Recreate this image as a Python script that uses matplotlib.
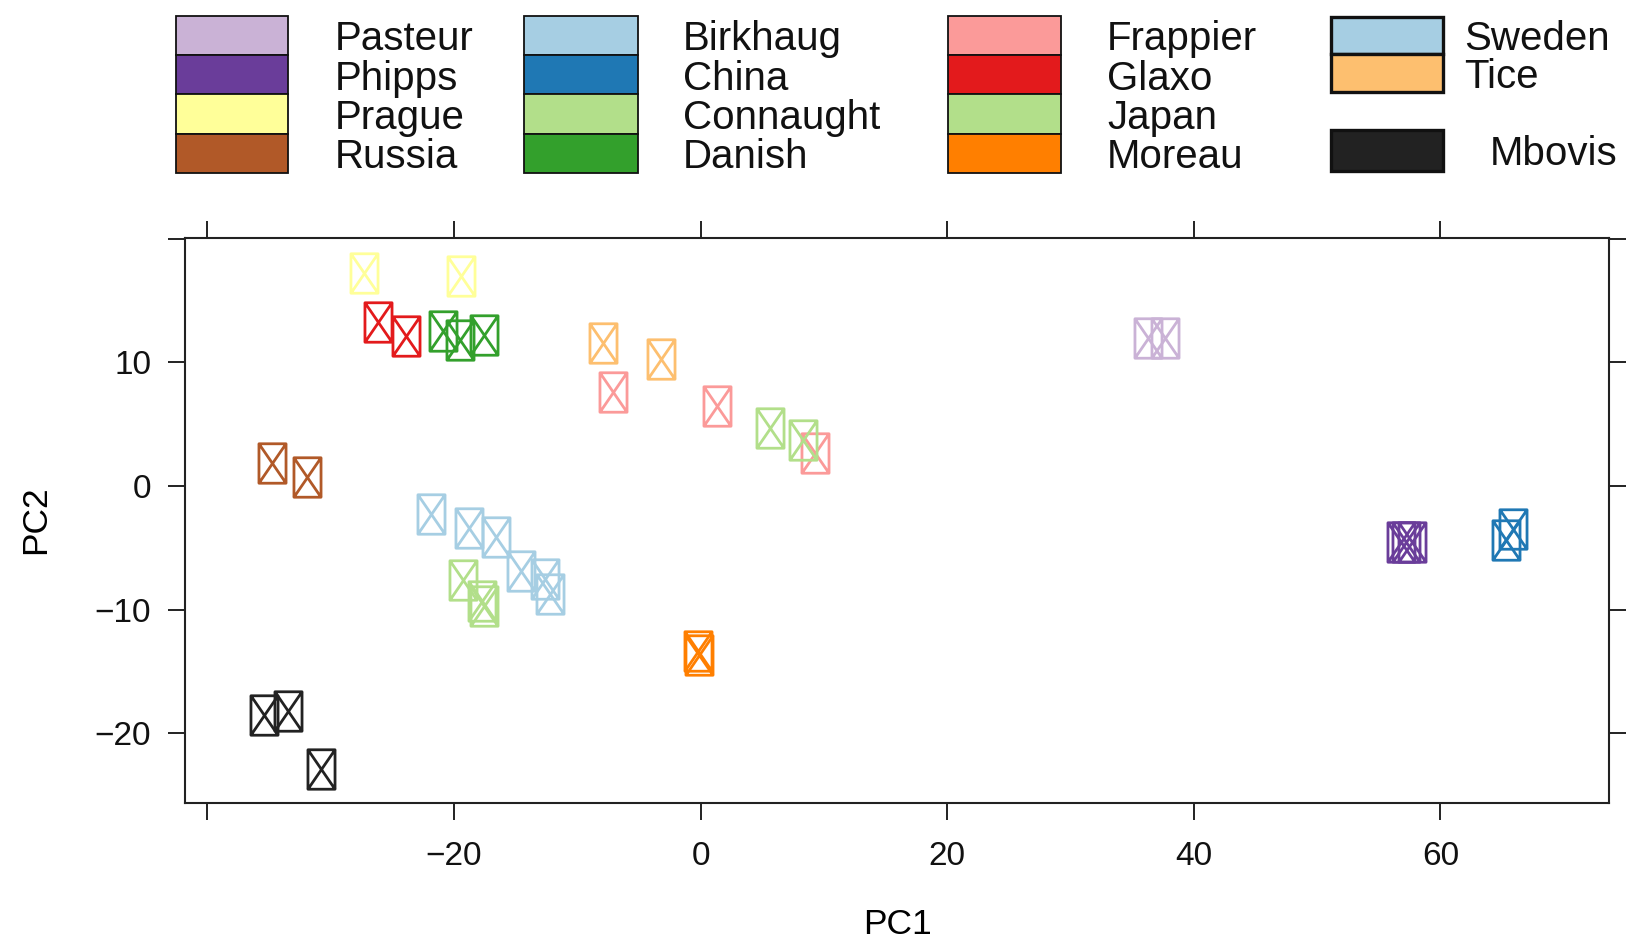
import matplotlib
matplotlib.use('Agg')
import matplotlib.pyplot as plt
from matplotlib.path import Path
from matplotlib.patches import Rectangle
from matplotlib import font_manager

# --- Data ---
strains = ['Pasteur', 'Phipps', 'Prague', 'Russia',
           'Birkhaug', 'China', 'Connaught', 'Danish',
           'Frappier', 'Glaxo', 'Japan', 'Moreau',
           'Sweden', 'Tice', 'Mbovis']
colors = ['#CAB2D6', '#6A3D9A', '#FFFF99', '#B15928',
          '#A6CEE3', '#1F78B4', '#B2DF8A', '#33A02C',
          '#FB9A99', '#E31A1C', '#B2DF8A', '#FF7F00',
          '#A6CEE3', '#FDBF6F', '#222222']

pc1 = {
    'Pasteur': [36.3, 37.7],
    'Phipps': [56.8, 57.2, 57.7],
    'Prague': [-27.3, -19.4],
    'Russia': [-34.8, -31.9],
    'Birkhaug': [-21.9, -18.8, -16.6],
    'China': [65.3, 65.9],
    'Connaught': [-19.3, -17.7, -17.6],
    'Danish': [-20.9, -19.5, -17.6],
    'Frappier': [-7.1, 1.3, 9.3],
    'Glaxo': [-26.2, -23.9],
    'Japan': [5.6, 8.3],
    'Moreau': [-0.2, -0.1],
    'Sweden': [-14.6, -12.6, -12.2],
    'Tice': [-7.9, -3.2],
    'Mbovis': [-35.4, -33.5, -30.8],
}
pc2 = {
    'Pasteur': [12.0, 12.0],
    'Phipps': [-4.5, -4.5, -4.5],
    'Prague': [17.2, 17.0],
    'Russia': [1.9, 0.7],
    'Birkhaug': [-2.3, -3.4, -4.1],
    'China': [-4.4, -3.5],
    'Connaught': [-7.6, -9.3, -9.7],
    'Danish': [12.5, 11.8, 12.2],
    'Frappier': [7.6, 6.5, 2.7],
    'Glaxo': [13.3, 12.1],
    'Japan': [4.7, 3.7],
    'Moreau': [-13.3, -13.7],
    'Sweden': [-6.9, -7.5, -8.7],
    'Tice': [11.6, 10.3],
    'Mbovis': [-18.5, -18.2, -22.9],
}

x_ticks = [-40, -20, 0, 20, 40, 60]
y_ticks = [-20, -10, 0, 10, 20]

# --- fonts ---
names = {f.name for f in font_manager.fontManager.ttflist}
if 'Liberation Sans Narrow' in names:
    plt.rcParams['font.family'] = ['Liberation Sans Narrow', 'DejaVu Sans']
    fs_leg, fs_tick, fs_lab = 35, 29, 31
else:
    plt.rcParams['font.family'] = ['Liberation Sans', 'DejaVu Sans']
    fs_leg, fs_tick, fs_lab = 29, 24, 25.5

# box with a cross inside (like R pch 7), a bit taller than wide
hw = 0.343
box_x = Path([(-hw, -0.5), (hw, -0.5), (hw, 0.5), (-hw, 0.5), (-hw, -0.5),
              (-hw, -0.5), (hw, 0.5), (-hw, 0.5), (hw, -0.5)],
             [Path.MOVETO, Path.LINETO, Path.LINETO, Path.LINETO, Path.CLOSEPOLY,
              Path.MOVETO, Path.LINETO, Path.MOVETO, Path.LINETO])

W, H = 1626, 941
fig = plt.figure(figsize=(W / 100, H / 100), dpi=100)
ax = fig.add_axes([184.6 / W, 1 - 802.6 / H, (1609.4 - 184.6) / W, (802.6 - 237.5) / H])

for name, col in zip(strains, colors):
    ax.plot(pc1[name], pc2[name], linestyle='none', marker=box_x,
            markersize=28.4, markerfacecolor='none', markeredgecolor=col,
            markeredgewidth=2.0)

ax.set_xlim(-41.85, 73.7)
ax.set_ylim(-25.6, 20.1)
ax.set_xticks(x_ticks)
ax.set_xticklabels(['' if t == -40 else str(t).replace('-', '\u2212') for t in x_ticks])
ax.set_yticks(y_ticks)
ax.set_yticklabels(['' if t == 20 else str(t).replace('-', '\u2212') for t in y_ticks])
ax.tick_params(direction='out', length=12, width=1.4, top=True, right=True,
               labelsize=fs_tick, color='#222222', labelcolor='#111111')
ax.tick_params(axis='x', pad=16)
ax.tick_params(axis='y', pad=12)
for s in ax.spines.values():
    s.set_linewidth(1.5)
    s.set_color('#222222')

ax.set_xlabel('PC1', fontsize=fs_lab, va='center')
ax.xaxis.set_label_coords(0.5, (802.6 - 924) / (802.6 - 237.5))
ax.set_ylabel('PC2', fontsize=fs_lab, va='center')
ax.yaxis.set_label_coords((36 - 184.6) / (1609.4 - 184.6), 0.5)

# --- legend drawn at the top (pixel layout in figure space) ---
rows = [(15.6, 55.0), (55.0, 94.4), (94.4, 133.8), (133.8, 173.2)]
cols = [(176, 288, 335), (524, 638, 683), (948, 1061, 1107)]
for ci, (x0, x1, xt) in enumerate(cols):
    for ri, (y0, y1) in enumerate(rows):
        k = ci * 4 + ri
        fig.add_artist(Rectangle((x0 / W, 1 - y1 / H), (x1 - x0) / W, (y1 - y0) / H,
                                 transform=fig.transFigure, facecolor=colors[k],
                                 edgecolor='#111111', linewidth=1.3))
        fig.text(xt / W, 1 - (y0 + y1) / 2 / H, strains[k], fontsize=fs_leg,
                 ha='left', va='center_baseline', color='#111111')

# last column: Sweden / Tice grouped, Mbovis apart
col4 = [(16.6, 54.0, 1464), (54.0, 92.3, 1464), (129.6, 171.0, 1490)]
for j, (y0, y1, xt) in enumerate(col4):
    k = 12 + j
    fig.add_artist(Rectangle((1330.5 / W, 1 - y1 / H), 112 / W, (y1 - y0) / H,
                             transform=fig.transFigure, facecolor=colors[k],
                             edgecolor='#111111', linewidth=2.4))
    fig.text(xt / W, 1 - (y0 + y1) / 2 / H, strains[k], fontsize=fs_leg,
             ha='left', va='center_baseline', color='#111111')

fig.savefig('out.png', dpi=100)
